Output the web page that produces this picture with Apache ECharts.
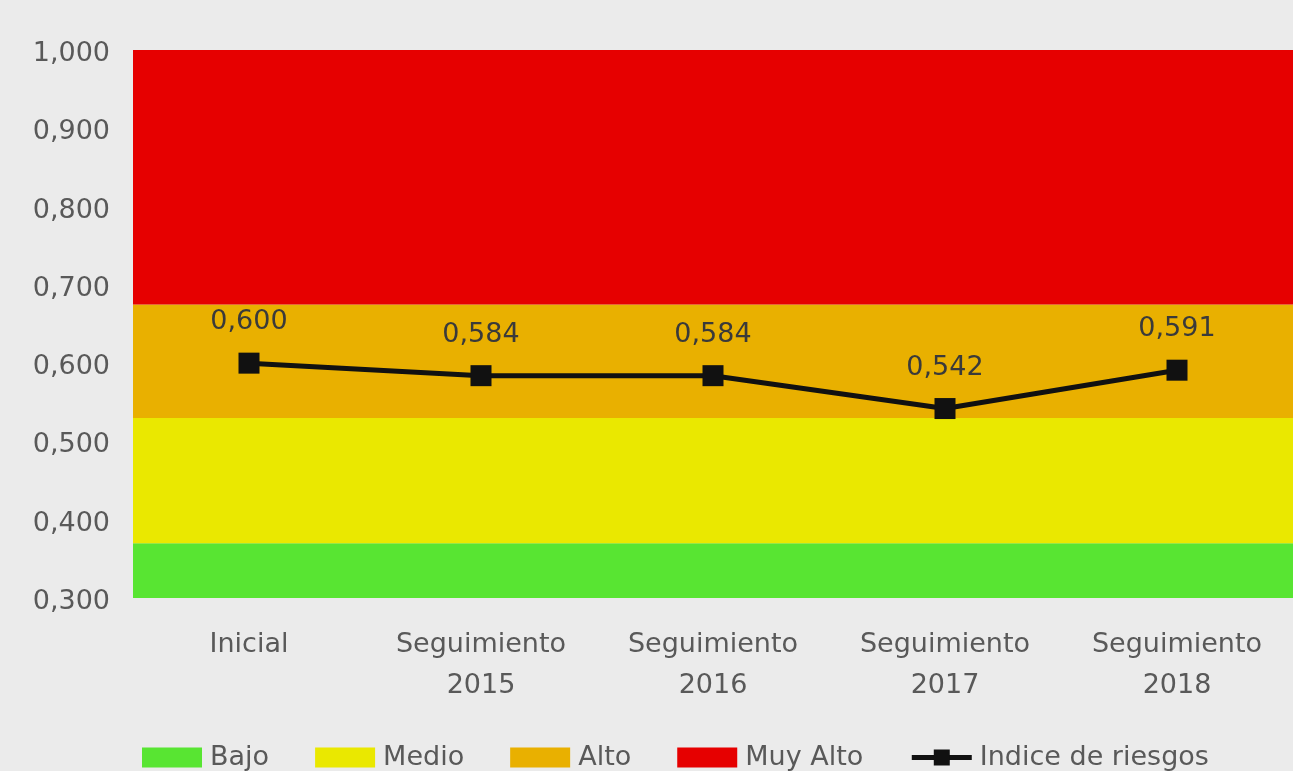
<!DOCTYPE html>
<html>
<head>
<meta charset="utf-8">
<script src="https://cdn.jsdelivr.net/npm/echarts@6/dist/echarts.min.js"></script>
<style>
  html, body { margin: 0; padding: 0; background: #ebebeb; }
  #chart { width: 1293px; height: 771px; }
</style>
</head>
<body>
<div id="chart"></div>
<script>
// categorías del eje x
const categorias = ["Inicial", "Seguimiento\n2015", "Seguimiento\n2016", "Seguimiento\n2017", "Seguimiento\n2018"];

// bandas de riesgo (apiladas desde 0)
const bajo = [0.37, 0.37, 0.37, 0.37, 0.37];
const medio = [0.16, 0.16, 0.16, 0.16, 0.16];
const alto = [0.145, 0.145, 0.145, 0.145, 0.145];
const muyAlto = [0.325, 0.325, 0.325, 0.325, 0.325];

// índice de riesgos
const indice = [0.600, 0.584, 0.584, 0.542, 0.591];

const FONT = "DejaVu Sans";
const fmt = (v) => Number(v).toFixed(3).replace(".", ",");

const chart = echarts.init(document.getElementById("chart"));

// una banda = serie de barras apiladas sin hueco entre categorías
const banda = (name, data, color) => ({
  name,
  type: "bar",
  stack: "bandas",
  data,
  barCategoryGap: "0%",
  itemStyle: { color },
  emphasis: { disabled: true },
  silent: true,
});

chart.setOption({
  backgroundColor: "#ebebeb",
  animation: false,
  textStyle: { fontFamily: FONT },
  // ancho 1170 -> 234 px por categoría, bordes en píxel entero
  grid: { left: 133, right: -10, top: 50, bottom: 173 },
  legend: {
    left: 137,
    top: 739,
    itemWidth: 60,
    itemHeight: 20,
    itemGap: 46,
    lineStyle: { width: 5 },
    textStyle: { fontFamily: FONT, fontSize: 27, color: "#595959", padding: [0, 0, 0, 3] },
    data: [
      { name: "Bajo", icon: "rect" },
      { name: "Medio", icon: "rect" },
      { name: "Alto", icon: "rect" },
      { name: "Muy Alto", icon: "rect" },
      { name: "Indice de riesgos" },
    ],
  },
  xAxis: {
    type: "category",
    data: categorias,
    axisLine: { show: false },
    axisTick: { show: false },
    axisLabel: { fontFamily: FONT, fontSize: 27, color: "#595959", lineHeight: 41, margin: 26 },
  },
  yAxis: {
    type: "value",
    min: 0.3,
    max: 1.0,
    interval: 0.1,
    axisLine: { show: false },
    axisTick: { show: false },
    splitLine: { show: false },
    axisLabel: {
      margin: 23,
      formatter: (v) => "{t|" + fmt(v) + "}",
      rich: {
        t: { fontFamily: FONT, fontSize: 27, color: "#595959", padding: [8, 0, 0, 0] },
      },
    },
  },
  series: [
    banda("Bajo", bajo, "#58e532"),
    banda("Medio", medio, "#eae800"),
    banda("Alto", alto, "#e9b000"),
    banda("Muy Alto", muyAlto, "#e60000"),
    {
      name: "Indice de riesgos",
      type: "line",
      data: indice,
      symbol: "rect",
      symbolSize: 21,
      itemStyle: { color: "#111" },
      lineStyle: { color: "#111", width: 5 },
      label: {
        show: true,
        position: "top",
        distance: 17,
        fontFamily: FONT,
        fontSize: 27,
        color: "#3a3a3a",
        formatter: (p) => fmt(p.value),
      },
      z: 10,
    },
  ],
});
</script>
</body>
</html>
